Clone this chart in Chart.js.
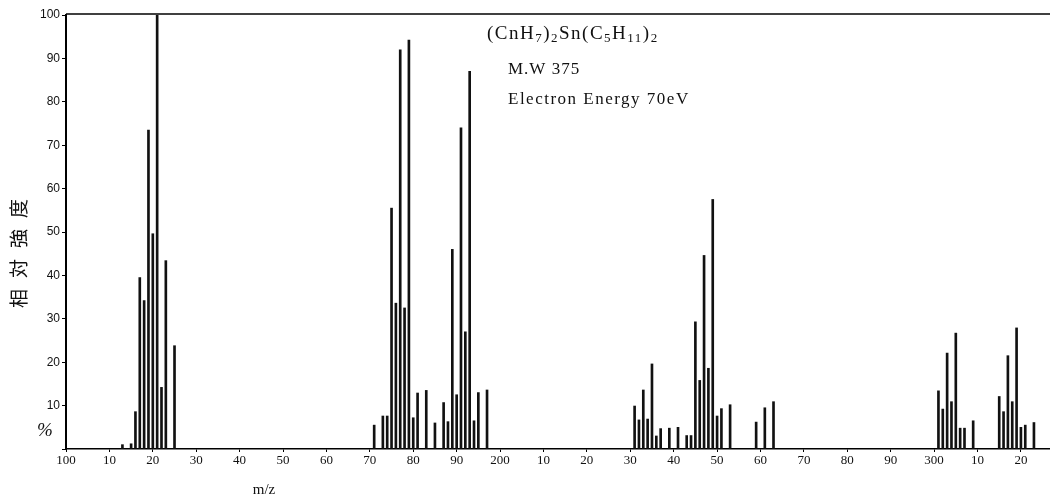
<!DOCTYPE html>
<html>
<head>
<meta charset="utf-8">
<title>Mass spectrum</title>
<script src="https://cdn.jsdelivr.net/npm/chart.js@4.4.0/dist/chart.umd.min.js"></script>
<style>
  html, body { margin: 0; padding: 0; background: #fff; }
  canvas { display: block; }
</style>
</head>
<body>
<canvas id="myChart" width="1050" height="496"></canvas>
<script>
'use strict';

// m/z of each peak and its relative intensity (%)
const mzValues = [
  113, 115, 116, 117, 118, 119, 120, 121, 122, 123, 125,
  171, 173, 174, 175, 176, 177, 178, 179, 180, 181, 183, 185, 187, 188, 189, 190, 191, 192, 193, 194, 195, 197,
  231, 232, 233, 234, 235, 236, 237, 239, 241, 243, 244, 245, 246, 247, 248, 249, 250, 251, 253, 259, 261, 263,
  301, 302, 303, 304, 305, 306, 307, 309, 315, 316, 317, 318, 319, 320, 321, 323,
];
const intensities = [
  1.0, 1.2, 8.6, 39.5, 34.2, 73.5, 49.6, 100, 14.2, 43.4, 23.8,
  5.5, 7.6, 7.6, 55.5, 33.6, 92, 32.5, 94.2, 7.2, 12.9, 13.5, 6.0, 10.7, 6.3, 46, 12.5, 74, 27, 87, 6.5, 13, 13.6,
  9.9, 6.7, 13.6, 6.9, 19.6, 3.0, 4.7, 4.8, 5.0, 3.1, 3.1, 29.3, 15.8, 44.6, 18.6, 57.5, 7.6, 9.3, 10.2, 6.2, 9.5, 10.9,
  13.4, 9.2, 22.1, 10.9, 26.7, 4.8, 4.8, 6.5, 12.1, 8.6, 21.5, 10.9, 27.9, 5.0, 5.5, 6.1,
];

const mzMin = 100;
const mzMax = 326.7;

// formula runs: [text, isSubscript]
const formula = [
  ['(CnH', false], ['7', true], [')', false], ['2', true],
  ['Sn(C', false], ['5', true], ['H', false], ['11', true], [')', false], ['2', true],
];
const infoLines = ['M.W 375', 'Electron Energy 70eV'];
const yTitle = '相対強度';

const peaks = mzValues.map((m, i) => ({ x: m, y: intensities[i] }));

const textLayer = {
  id: 'textLayer',
  afterDraw(chart) {
    const { ctx, chartArea } = chart;
    ctx.save();

    // top frame line
    ctx.strokeStyle = '#000';
    ctx.lineWidth = 1.5;
    ctx.beginPath();
    ctx.moveTo(chartArea.left, chartArea.top - 1);
    ctx.lineTo(chartArea.right, chartArea.top - 1);
    ctx.stroke();

    ctx.fillStyle = '#111';
    ctx.textBaseline = 'alphabetic';
    ctx.textAlign = 'left';
    ctx.letterSpacing = '1.5px';

    // compound formula with subscripts
    let x = 487;
    const y = 39;
    for (const [t, sub] of formula) {
      ctx.font = sub ? '13px "Liberation Serif"' : '19px "Liberation Serif"';
      ctx.fillText(t, x, sub ? y + 3 : y);
      x += ctx.measureText(t).width;
    }

    ctx.font = '17px "Liberation Serif"';
    ctx.letterSpacing = '1px';
    ctx.fillText(infoLines[0], 508, 74);
    ctx.letterSpacing = '1.5px';
    ctx.fillText(infoLines[1], 508, 104);

    // unit marks
    ctx.letterSpacing = '0px';
    ctx.font = 'italic 19px "Liberation Serif"';
    ctx.textAlign = 'center';
    ctx.fillText('%', 45, 436);
    ctx.font = '15px "Liberation Serif"';
    ctx.fillText('m/z', 264, 494);

    // vertical axis title, read bottom to top
    ctx.translate(19, 248);
    ctx.rotate(-Math.PI / 2);
    ctx.font = '19px "Noto Sans CJK JP"';
    ctx.letterSpacing = '11px';
    ctx.textBaseline = 'middle';
    ctx.fillText(yTitle, 0, 0);

    ctx.restore();
  },
};

const config = {
  type: 'bar',
  data: {
    datasets: [{
      label: 'intensity',
      data: peaks,
      backgroundColor: '#111',
      borderWidth: 0,
      barThickness: 2,
    }],
  },
  options: {
    responsive: false,
    animation: false,
    layout: { padding: { top: 15, right: 0, left: 0, bottom: 0 } },
    plugins: {
      legend: { display: false },
      tooltip: { enabled: false },
    },
    scales: {
      x: {
        type: 'linear',
        min: mzMin,
        max: mzMax,
        offset: false,
        grid: { offset: false, drawOnChartArea: false, tickLength: 3, color: '#000' },
        border: { color: '#000', width: 1.5 },
        ticks: {
          stepSize: 10,
          includeBounds: false,
          padding: 1,
          color: '#111',
          font: { family: '"Liberation Serif"', size: 13 },
          maxRotation: 0,
          autoSkip: false,
          callback: (v) => (v % 100 === 0 ? String(v) : String(v % 100)),
        },
        afterFit(scale) { scale.height = 47; },
      },
      y: {
        min: 0,
        max: 100,
        grid: { drawOnChartArea: false, tickLength: 4, color: '#000' },
        border: { color: '#000', width: 2 },
        ticks: {
          stepSize: 10,
          padding: 2,
          color: '#111',
          font: { family: '"Liberation Sans"', size: 12 },
          callback: (v) => (v === 0 ? '' : String(v)),
        },
        afterFit(scale) { scale.width = 66; },
      },
    },
  },
  plugins: [textLayer],
};

const myChart = new Chart(document.getElementById('myChart'), config);
</script>
</body>
</html>
